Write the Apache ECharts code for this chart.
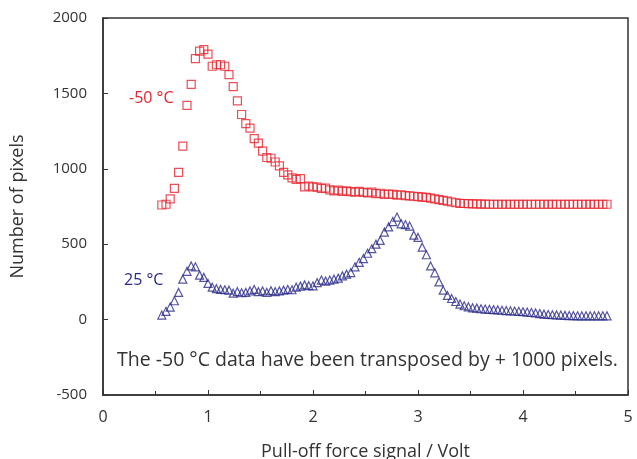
<!DOCTYPE html>
<html>
<head>
<meta charset="utf-8">
<script src="https://cdn.jsdelivr.net/npm/echarts@6/dist/echarts.min.js"></script>
<style>
    html, body { margin: 0; padding: 0; background: #fff; }
    #chart { width: 637px; height: 459px; }
</style>
</head>
<body>
<div id="chart"></div>
<script>
// Pull-off force signal (Volt), shared by both series
const volts = [
    0.56, 0.60, 0.64, 0.68, 0.72, 0.76, 0.80, 0.84, 0.88, 0.92, 0.96, 1.00,
    1.04, 1.08, 1.12, 1.16, 1.20, 1.24, 1.28, 1.32, 1.36, 1.40, 1.44, 1.48,
    1.52, 1.56, 1.60, 1.64, 1.68, 1.72, 1.76, 1.80, 1.84, 1.88, 1.92, 1.96,
    2.00, 2.04, 2.08, 2.12, 2.16, 2.20, 2.24, 2.28, 2.32, 2.36, 2.40, 2.44,
    2.48, 2.52, 2.56, 2.60, 2.64, 2.68, 2.72, 2.76, 2.80, 2.84, 2.88, 2.92,
    2.96, 3.00, 3.04, 3.08, 3.12, 3.16, 3.20, 3.24, 3.28, 3.32, 3.36, 3.40,
    3.44, 3.48, 3.52, 3.56, 3.60, 3.64, 3.68, 3.72, 3.76, 3.80, 3.84, 3.88,
    3.92, 3.96, 4.00, 4.04, 4.08, 4.12, 4.16, 4.20, 4.24, 4.28, 4.32, 4.36,
    4.40, 4.44, 4.48, 4.52, 4.56, 4.60, 4.64, 4.68, 4.72, 4.76, 4.80
];

// -50 °C, already shifted by +1000 pixels
const coldPixels = [
    760, 765, 800, 870, 976, 1150, 1420, 1560, 1730, 1780, 1790, 1760,
    1680, 1690, 1690, 1680, 1625, 1545, 1450, 1360, 1300, 1270, 1200, 1170,
    1117, 1075, 1070, 1045, 1020, 976, 960, 940, 930, 935, 880, 886,
    880, 878, 870, 872, 860, 853, 858, 850, 853, 848, 845, 850,
    844, 840, 845, 835, 838, 830, 833, 831, 825, 828, 822, 820,
    818, 815, 812, 811, 805, 800, 795, 790, 785, 780, 775, 771,
    770, 769, 768, 767, 766, 766, 765, 765, 765, 765, 765, 765,
    765, 765, 765, 765, 765, 765, 765, 765, 765, 765, 765, 765,
    765, 765, 765, 765, 765, 765, 765, 765, 765, 765, 765
];

// 25 °C
const warmPixels = [
    30, 55, 83, 125, 180, 268, 320, 356, 350, 295, 280, 240,
    215, 205, 200, 198, 195, 175, 185, 178, 180, 190, 200, 185,
    190, 180, 192, 185, 190, 195, 200, 198, 215, 222, 230, 225,
    224, 245, 262, 255, 262, 268, 275, 290, 301, 312, 350, 380,
    405, 440, 470, 500, 525, 580, 615, 650, 680, 635, 630, 620,
    560, 545, 480, 430, 356, 310, 250, 195, 160, 140, 120, 103,
    92, 85, 78, 76, 72, 70, 68, 66, 64, 62, 60, 58,
    57, 55, 52, 50, 47, 44, 40, 36, 34, 32, 31, 30,
    28, 27, 26, 25, 25, 25, 25, 25, 25, 25, 25
];

const fontFamily = '"Open Sans", Lato, sans-serif';
const textColor = '#333';

const chart = echarts.init(document.getElementById('chart'));

const option = {
    animation: false,
    backgroundColor: '#fff',
    grid: {
        left: 103,
        top: 18,
        width: 525,
        height: 377,
        outerBoundsMode: 'none',
        containLabel: false,
        show: true,
        borderColor: '#333',
        borderWidth: 1.5
    },
    xAxis: {
        type: 'value',
        min: 0,
        max: 5,
        interval: 1,
        name: 'Pull-off force signal / Volt',
        nameLocation: 'middle',
        nameGap: 48,
        nameTextStyle: { fontFamily, fontSize: 18, color: textColor },
        axisLine: { onZero: false, lineStyle: { color: '#333', width: 1.5 } },
        axisTick: { inside: true, length: 5, lineStyle: { color: '#333' } },
        minorTick: { show: true, splitNumber: 2, length: 4, lineStyle: { color: '#333' } },
        axisLabel: { fontFamily, fontSize: 16, color: textColor, margin: 14 },
        splitLine: { show: false }
    },
    yAxis: {
        type: 'value',
        min: -500,
        max: 2000,
        interval: 500,
        name: 'Number of pixels',
        nameLocation: 'middle',
        nameGap: 76,
        nameTextStyle: { fontFamily, fontSize: 18, color: textColor },
        axisLine: { onZero: false, lineStyle: { color: '#333', width: 1.5 } },
        axisTick: { inside: true, length: 5, lineStyle: { color: '#333' } },
        axisLabel: {
            fontFamily, fontSize: 15, color: textColor, margin: 16,
            formatter: value => String(value)
        },
        splitLine: { show: false }
    },
    series: [
        {
            name: '-50 °C',
            type: 'scatter',
            symbol: 'rect',
            symbolSize: 8,
            itemStyle: { color: 'transparent', borderColor: '#e8232d', borderWidth: 1.2 },
            data: volts.map((v, i) => [v, coldPixels[i]])
        },
        {
            name: '25 °C',
            type: 'scatter',
            symbol: 'triangle',
            symbolSize: 8,
            itemStyle: { color: 'transparent', borderColor: '#2a2a88', borderWidth: 1.2 },
            data: volts.map((v, i) => [v, warmPixels[i]])
        }
    ],
    graphic: [
        {
            type: 'text',
            left: 129,
            top: 90,
            style: { text: '-50 °C', fontFamily, fontSize: 16, fill: '#e8232d' }
        },
        {
            type: 'text',
            left: 124,
            top: 272,
            style: { text: '25 °C', fontFamily, fontSize: 16, fill: '#2a2a88' }
        },
        {
            type: 'text',
            left: 117,
            top: 350,
            style: {
                text: 'The -50 °C data have been transposed by + 1000 pixels.',
                fontFamily,
                fontSize: 19.5,
                fill: textColor
            }
        }
    ]
};

chart.setOption(option);
</script>
</body>
</html>
